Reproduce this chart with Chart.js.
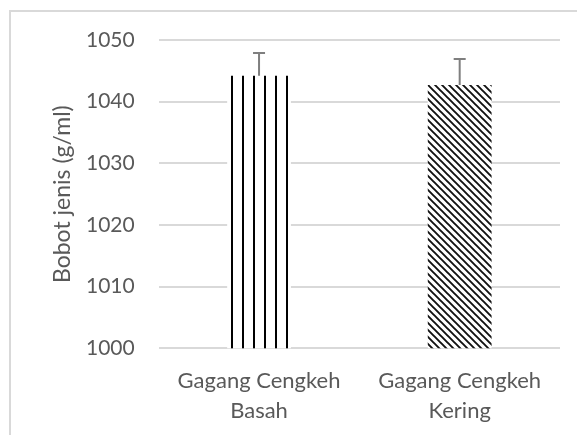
<!DOCTYPE html>
<html>
<head>
<meta charset="utf-8">
<script src="https://cdn.jsdelivr.net/npm/chart.js@4/dist/chart.umd.min.js"></script>
<style>
  html, body { margin: 0; padding: 0; background: #fff; }
  #wrap { width: 577px; height: 435px; }
</style>
</head>
<body>
<div id="wrap"><canvas id="bobotChart" width="577" height="435"></canvas></div>
<script>
var categories = [["Gagang Cengkeh", "Basah"], ["Gagang Cengkeh", "Kering"]];
var bobotValues = [1044.2, 1042.7];
var bobotErrors = [3.7, 4.2];
var yTicks = [1000, 1010, 1020, 1030, 1040, 1050];

var textColor = "#595959";
var fontFamily = "Lato, 'Open Sans', sans-serif";

// vertical stripes, like excel "wide vertical"
function stripePattern() {
  var c = document.createElement("canvas");
  c.width = 11;
  c.height = 11;
  var ctx = c.getContext("2d");
  ctx.fillStyle = "#fff";
  ctx.fillRect(0, 0, 11, 11);
  ctx.fillStyle = "#000";
  ctx.fillRect(0, 0, 2, 11);
  return ctx.createPattern(c, "repeat");
}

// dense diagonal "\" hatch
function hatchPattern() {
  var s = 7;
  var c = document.createElement("canvas");
  c.width = s;
  c.height = s;
  var ctx = c.getContext("2d");
  ctx.fillStyle = "#fff";
  ctx.fillRect(0, 0, s, s);
  ctx.strokeStyle = "#111";
  ctx.lineWidth = 1.9;
  ctx.beginPath();
  ctx.moveTo(-1, -1); ctx.lineTo(s + 1, s + 1);
  ctx.moveTo(-1, s - 1); ctx.lineTo(1, s + 1);
  ctx.moveTo(s - 1, -1); ctx.lineTo(s + 1, 1);
  ctx.stroke();
  return ctx.createPattern(c, "repeat");
}

var frame = {
  id: "frame",
  beforeDraw: function(chart) {
    var ctx = chart.ctx;
    ctx.save();
    ctx.fillStyle = "#fff";
    ctx.fillRect(0, 0, chart.width, chart.height);
    ctx.strokeStyle = "#d9d9d9";
    ctx.lineWidth = 2;
    ctx.strokeRect(10, 11, 700, 700);
    ctx.restore();
  }
};

var errorBars = {
  id: "errorBars",
  afterDatasetsDraw: function(chart) {
    var ctx = chart.ctx;
    var y = chart.scales.y;
    var meta = chart.getDatasetMeta(0);
    ctx.save();
    ctx.strokeStyle = "#7f7f7f";
    ctx.lineWidth = 2;
    meta.data.forEach(function(bar, i) {
      var top = y.getPixelForValue(bobotValues[i] + bobotErrors[i]);
      var base = y.getPixelForValue(bobotValues[i]);
      ctx.beginPath();
      ctx.moveTo(bar.x, base);
      ctx.lineTo(bar.x, top);
      ctx.moveTo(bar.x - 6, top);
      ctx.lineTo(bar.x + 6, top);
      ctx.stroke();
    });
    ctx.restore();
  }
};

const dataBobot = {
  labels: categories,
  datasets: [
    {
      label: "Bobot jenis",
      data: bobotValues,
      backgroundColor: [stripePattern(), hatchPattern()],
      borderWidth: 0,
      barPercentage: 0.318,
      categoryPercentage: 1,
    },
  ],
};

const configBobot = {
  type: "bar",
  data: dataBobot,
  options: {
    responsive: false,
    animation: false,
    layout: { padding: { left: 49, right: 17, top: 40, bottom: 0 } },
    plugins: {
      legend: { display: false },
      tooltip: { enabled: false },
    },
    scales: {
      x: {
        grid: { display: false },
        border: { display: false },
        ticks: {
          color: textColor,
          font: { family: fontFamily, size: 22, lineHeight: 1.38 },
          padding: 9,
          maxRotation: 0,
        },
      },
      y: {
        min: 1000,
        max: 1050,
        afterBuildTicks: function(axis) {
          axis.ticks = yTicks.map(function(v) { return { value: v }; });
        },
        grid: { color: "#d9d9d9", lineWidth: 2, drawTicks: false },
        border: { display: false },
        ticks: {
          color: textColor,
          font: { family: fontFamily, size: 21 },
          padding: 24,
          callback: function(v) { return String(v); },
        },
        title: {
          display: true,
          text: "Bobot jenis (g/ml)",
          color: textColor,
          font: { family: fontFamily, size: 23 },
          padding: { top: 0, bottom: -14.6 },
        },
      },
    },
  },
  plugins: [frame, errorBars],
};

var bobotChart = new Chart(document.getElementById("bobotChart"), configBobot);
</script>
</body>
</html>
